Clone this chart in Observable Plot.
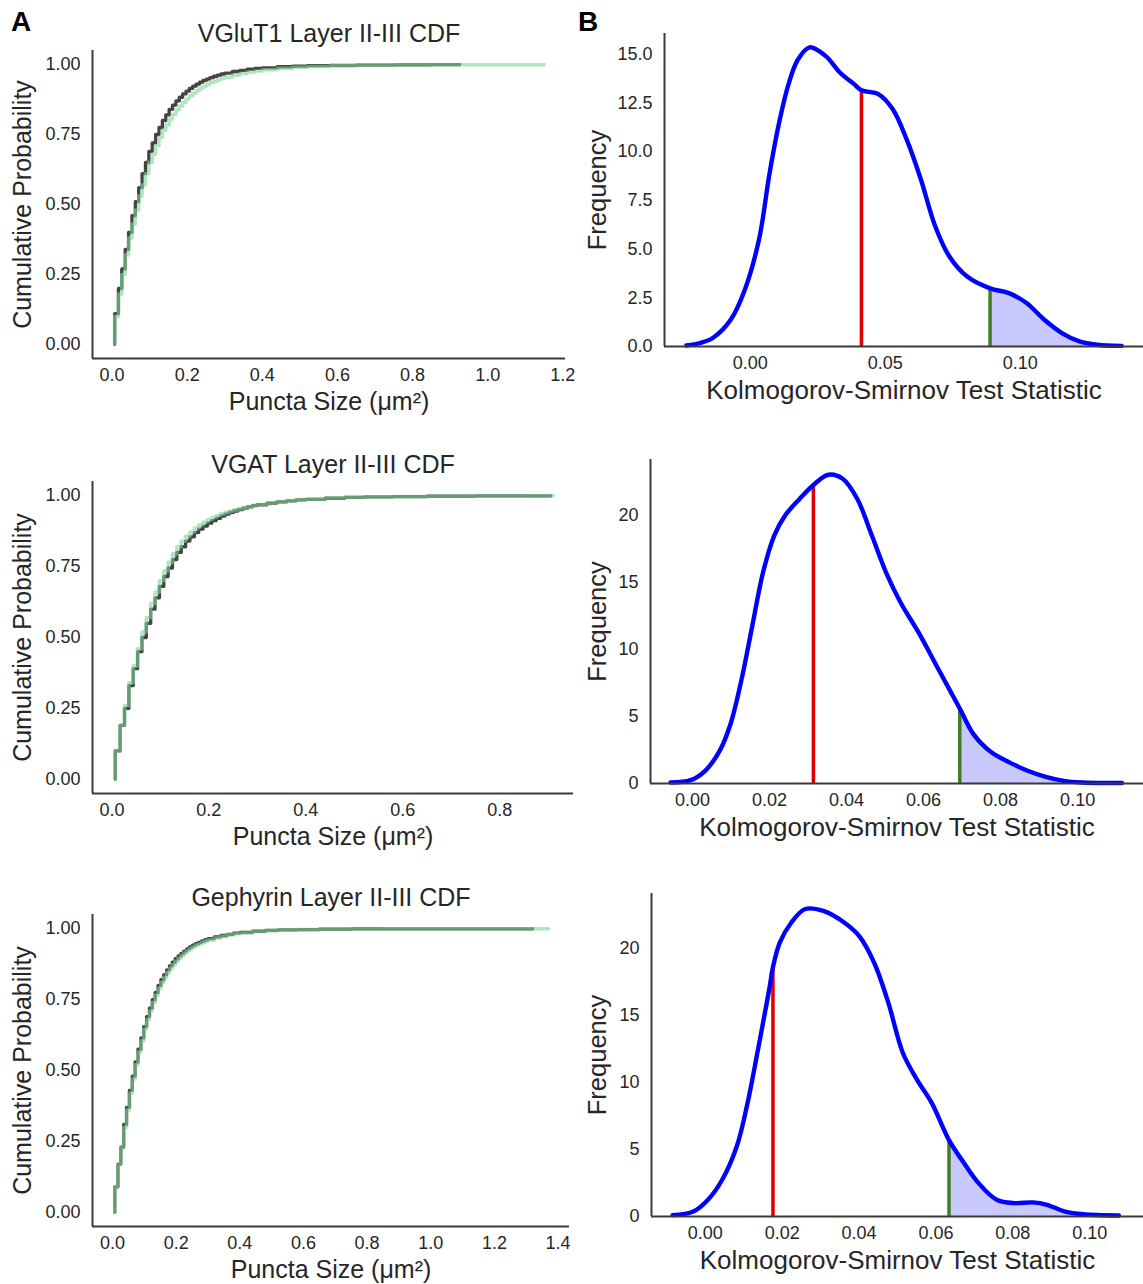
<!DOCTYPE html>
<html><head><meta charset="utf-8">
<script src="https://cdn.jsdelivr.net/npm/d3@7"></script>
<script src="https://cdn.jsdelivr.net/npm/@observablehq/plot@0.6"></script>
<style>
body{margin:0;background:#fff;}
#fig{position:relative;width:1143px;height:1284px;overflow:hidden;background:#fff;font-family:"Liberation Sans",Arial,sans-serif;}
.panel{position:absolute;}
.tag{position:absolute;font-weight:bold;font-size:28px;color:#000;line-height:1;font-family:"Liberation Sans",Arial,sans-serif;}
</style></head><body><div id="fig"></div>
<script>
// ---------- Panel A: cumulative distributions of puncta size ----------
const cdfTitles = ["VGluT1 Layer II-III CDF", "VGAT Layer II-III CDF", "Gephyrin Layer II-III CDF"];
const sizeSteps = [0.007,0.017,0.026,0.035,0.044,0.053,0.062,0.071,0.080,0.089,
  0.098,0.107,0.116,0.125,0.134,0.143,0.152,0.161,0.170,0.179,
  0.188,0.197,0.206,0.215,0.224,0.233,0.242,0.251,0.260,0.270,
  0.280,0.290,0.300,0.320,0.340,0.360,0.380,0.400,0.440,0.480,
  0.520,0.580,0.650,0.750,0.850];
const vglut1Dark = [0.11,0.20,0.27,0.34,0.40,0.46,0.51,0.56,0.61,0.65,
  0.69,0.72,0.75,0.775,0.80,0.82,0.84,0.855,0.87,0.883,
  0.895,0.905,0.915,0.923,0.93,0.937,0.943,0.948,0.953,0.958,
  0.962,0.966,0.969,0.975,0.979,0.983,0.986,0.988,0.992,0.994,
  0.996,0.997,0.998,0.999,0.9995];
const vglut1Green = [0.10,0.18,0.25,0.32,0.38,0.43,0.48,0.53,0.57,0.61,
  0.65,0.68,0.71,0.74,0.765,0.785,0.805,0.822,0.838,0.852,
  0.865,0.877,0.888,0.898,0.907,0.915,0.922,0.929,0.935,0.94,
  0.945,0.95,0.954,0.962,0.968,0.973,0.977,0.981,0.986,0.99,
  0.993,0.995,0.997,0.998,0.999];
const vgatDark = [0.10,0.19,0.25,0.33,0.39,0.45,0.50,0.55,0.60,0.64,
  0.68,0.715,0.745,0.775,0.80,0.82,0.84,0.855,0.87,0.882,
  0.893,0.903,0.912,0.92,0.928,0.935,0.941,0.946,0.951,0.956,
  0.961,0.965,0.968,0.974,0.978,0.982,0.985,0.987,0.991,0.994,
  0.996,0.997,0.998,0.999,0.9995];
const vgatGreen = [0.10,0.19,0.26,0.34,0.40,0.46,0.52,0.57,0.62,0.66,
  0.70,0.735,0.765,0.795,0.82,0.84,0.857,0.872,0.886,0.897,
  0.907,0.916,0.923,0.93,0.936,0.941,0.946,0.95,0.954,0.958,
  0.962,0.966,0.969,0.975,0.979,0.983,0.986,0.988,0.992,0.994,
  0.996,0.997,0.998,0.999,0.9995];
const gephDark = [0.09,0.17,0.23,0.31,0.37,0.43,0.48,0.53,0.575,0.615,
  0.655,0.69,0.72,0.75,0.775,0.80,0.82,0.838,0.855,0.869,
  0.882,0.894,0.904,0.913,0.921,0.929,0.936,0.942,0.947,0.952,
  0.957,0.961,0.965,0.971,0.976,0.98,0.984,0.987,0.991,0.994,
  0.996,0.997,0.998,0.999,0.9995];
const gephGreen = [0.09,0.17,0.23,0.30,0.36,0.42,0.47,0.52,0.565,0.605,
  0.645,0.68,0.71,0.74,0.765,0.79,0.81,0.828,0.845,0.86,
  0.873,0.885,0.896,0.905,0.914,0.922,0.929,0.935,0.941,0.946,
  0.951,0.956,0.96,0.967,0.973,0.978,0.982,0.985,0.99,0.993,
  0.995,0.997,0.998,0.999,0.9995];
const maxSizes = [[0.925, 1.15], [0.905, 0.91], [1.32, 1.37]]; // [dark, green]
const cdfXTicks = [[0,0.2,0.4,0.6,0.8,1.0,1.2], [0,0.2,0.4,0.6,0.8], [0,0.2,0.4,0.6,0.8,1.0,1.2,1.4]];
const cdfXDomains = [[-0.052, 1.207], [-0.040, 0.952], [-0.063, 1.436]];
const cdfYTicks = [0, 0.25, 0.5, 0.75, 1.0];
const cdfYDomain = [-0.05, 1.05];

// ---------- Panel B: KDE of KS statistics ----------
const kdeB1X = [-0.0236,-0.0185,-0.0137,-0.0072,-0.002,0.0033,0.0072,0.011,0.0143,0.0176,0.022,0.028,0.0332,0.0385,0.0412,0.0476,0.0528,0.058,0.0632,0.0685,0.0737,0.0802,0.0888,0.0958,0.1023,0.1089,0.1154,0.1219,0.1284,0.1375];
const kdeB1Y = [0.05,0.18,0.45,1.37,2.9,5.5,8.9,11.66,13.5,14.7,15.35,14.9,14.06,13.46,13.15,12.94,12.17,10.6,8.57,6.17,4.63,3.6,2.98,2.74,2.23,1.37,0.69,0.26,0.09,0.03];
const kdeB2X = [-0.0057,-0.0005,0.0033,0.0071,0.0099,0.0127,0.0155,0.0183,0.0212,0.024,0.0278,0.0314,0.0353,0.039,0.0428,0.0466,0.0503,0.0541,0.0588,0.0635,0.0694,0.0729,0.0776,0.0823,0.087,0.0917,0.0964,0.1011,0.1115];
const kdeB2Y = [0.07,0.25,0.95,2.46,4.46,7.72,11.73,15.74,18.5,20.0,21.25,22.3,23.06,22.76,21.25,18.5,15.74,13.48,11.23,8.72,5.6,3.71,2.33,1.58,0.95,0.5,0.2,0.08,0.04];
const kdeB3X = [-0.0085,-0.0031,0.0007,0.0044,0.0082,0.011,0.0138,0.0166,0.0176,0.0194,0.0223,0.026,0.0307,0.0363,0.0401,0.0439,0.0476,0.0514,0.0551,0.0589,0.0634,0.0673,0.0711,0.0758,0.0805,0.0852,0.0889,0.0936,0.0983,0.1076];
const kdeB3Y = [0.1,0.37,1.25,2.74,5.24,8.48,12.6,16.9,18.6,20.45,21.9,22.94,22.8,21.9,20.9,18.95,15.96,12.2,10.2,8.48,5.7,3.99,2.49,1.25,1.0,1.05,0.87,0.37,0.17,0.08];
const ksObserved = [0.0412, 0.0314, 0.0176];
const ksObservedDensity = [13.15, 22.3, 18.6];
const ksCritical = [0.0888, 0.0694, 0.0634];
const ksCriticalDensity = [2.98, 5.6, 5.7];
const kdeXTicks = [[0, 0.05, 0.10], [0,0.02,0.04,0.06,0.08,0.10], [0,0.02,0.04,0.06,0.08,0.10]];
const kdeYTicks = [[0,2.5,5,7.5,10,12.5,15], [0,5,10,15,20], [0,5,10,15,20]];
const kdeXDomains = [[-0.0317, 0.1456], [-0.0109, 0.1171], [-0.0140, 0.1140]];
const kdeYDomains = [[0, 16.06], [0, 24.2], [0, 24.1]];

// ---------- layout ----------
const FONT = '"Liberation Sans", Arial, sans-serif';
const INK = "#262626";
const SPINE = "#3a3a3a";
const leftBoxes = [
  {top: 0, height: 420, mt: 50, mb: 62, mr: 15},
  {top: 440, height: 420, mt: 41, mb: 67, mr: 7},
  {top: 870, height: 414, mt: 44, mb: 58, mr: 11}
];
const rightBoxes = [
  {top: 0, height: 420, mt: 33, ml: 89, mb: 74},
  {top: 440, height: 420, mt: 19, ml: 75, mb: 77},
  {top: 870, height: 414, mt: 23, ml: 76, mb: 68}
];
const fig = document.getElementById("fig");
function place(el, left, top) {
  const d = document.createElement("div");
  d.className = "panel"; d.style.left = left + "px"; d.style.top = top + "px";
  d.appendChild(el); fig.appendChild(d);
}
function ecdf(ys, max) {
  const rows = [{x: sizeSteps[0], y: 0}];
  sizeSteps.forEach((x, i) => rows.push({x, y: ys[i]}));
  rows.push({x: max, y: 1});
  return rows;
}
const cdfSeries = [[vglut1Dark, vglut1Green], [vgatDark, vgatGreen], [gephDark, gephGreen]];

cdfSeries.forEach(([dark, green], i) => {
  const b = leftBoxes[i];
  const xd = cdfXDomains[i];
  const p = Plot.plot({
    width: 580, height: b.height,
    marginLeft: 92, marginRight: b.mr, marginTop: b.mt, marginBottom: b.mb,
    x: {domain: xd, label: null},
    y: {domain: cdfYDomain, label: null},
    style: {fontFamily: FONT, color: INK, background: "transparent", overflow: "visible"},
    marks: [
      Plot.line(ecdf(dark, maxSizes[i][0]), {x: "x", y: "y", curve: "step-after", stroke: "#444444", strokeWidth: 3.3}),
      Plot.line(ecdf(green, maxSizes[i][1]), {x: "x", y: "y", curve: "step-after", stroke: "#7dd698", strokeOpacity: 0.6, strokeWidth: 3.6}),
      Plot.ruleX([xd[0]], {stroke: SPINE, strokeWidth: 2}),
      Plot.ruleY([cdfYDomain[0]], {stroke: SPINE, strokeWidth: 2}),
      Plot.axisX(cdfXTicks[i], {tickSize: 0, tickPadding: 10, fontSize: 18, tickFormat: d3.format(".1f"), label: null}),
      Plot.axisY(cdfYTicks, {tickSize: 0, tickPadding: 12, fontSize: 18, tickFormat: d3.format(".2f"), label: null}),
      Plot.text([cdfTitles[i]], {text: d => d, frameAnchor: "top", dy: -17, lineAnchor: "middle", fontSize: 25, fill: INK}),
      Plot.text(["Puncta Size (μm²)"], {text: d => d, frameAnchor: "bottom", dy: 43, lineAnchor: "middle", fontSize: 25, fill: INK}),
      Plot.text(["Cumulative Probability"], {text: d => d, frameAnchor: "left", dx: -70, rotate: -90, textAnchor: "middle", lineAnchor: "middle", fontSize: 25, fill: INK})
    ]
  });
  place(p, 0, b.top);
});

const kdeX = [kdeB1X, kdeB2X, kdeB3X];
const kdeY = [kdeB1Y, kdeB2Y, kdeB3Y];
const kdeFormats = [d3.format(".1f"), d3.format("d"), d3.format("d")];
kdeX.forEach((xs, i) => {
  const b = rightBoxes[i];
  const rows = xs.map((x, j) => ({x, y: kdeY[i][j]}));
  const tail = rows.filter(d => d.x >= ksCritical[i]);
  const xd = kdeXDomains[i], yd = kdeYDomains[i];
  const p = Plot.plot({
    width: 568, height: b.height,
    marginLeft: b.ml, marginRight: 0, marginTop: b.mt, marginBottom: b.mb,
    x: {domain: xd, label: null},
    y: {domain: yd, label: null},
    style: {fontFamily: FONT, color: INK, background: "transparent", overflow: "visible"},
    marks: [
      Plot.areaY(tail, {x: "x", y: "y", curve: "catmull-rom", fill: "#0000ff", fillOpacity: 0.21}),
      Plot.ruleX([ksObserved[i]], {y1: 0, y2: ksObservedDensity[i], stroke: "#e00000", strokeWidth: 3.5}),
      Plot.ruleX([ksCritical[i]], {y1: 0, y2: ksCriticalDensity[i], stroke: "#427c26", strokeWidth: 3.5}),
      Plot.line(rows, {x: "x", y: "y", curve: "catmull-rom", stroke: "#0000ff", strokeWidth: 4.4}),
      Plot.ruleX([xd[0]], {stroke: SPINE, strokeWidth: 2}),
      Plot.ruleY([yd[0]], {stroke: SPINE, strokeWidth: 2}),
      Plot.axisX(kdeXTicks[i], {tickSize: 0, tickPadding: 10, fontSize: 18, tickFormat: d3.format(".2f"), label: null}),
      Plot.axisY(kdeYTicks[i], {tickSize: 0, tickPadding: 12, fontSize: 18, tickFormat: kdeFormats[i], label: null}),
      Plot.text(["Kolmogorov-Smirnov Test Statistic"], {text: d => d, frameAnchor: "bottom", dy: 44, lineAnchor: "middle", fontSize: 26, fill: INK}),
      Plot.text(["Frequency"], {text: d => d, frameAnchor: "left", dx: -(b.ml - 22), rotate: -90, textAnchor: "middle", lineAnchor: "middle", fontSize: 25.5, fill: INK})
    ]
  });
  place(p, 575, b.top);
});

const tagA = document.createElement("div"); tagA.className = "tag"; tagA.textContent = "A";
tagA.style.left = "11px"; tagA.style.top = "8px"; fig.appendChild(tagA);
const tagB = document.createElement("div"); tagB.className = "tag"; tagB.textContent = "B";
tagB.style.left = "578px"; tagB.style.top = "8px"; fig.appendChild(tagB);
</script></body></html>
